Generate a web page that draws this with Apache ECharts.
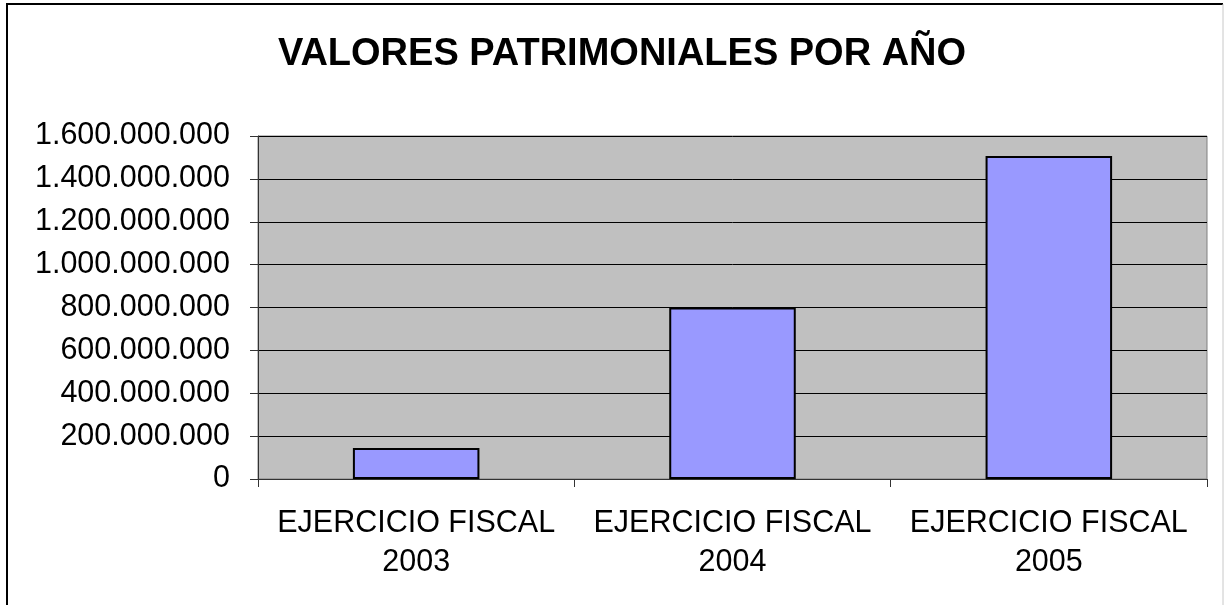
<!DOCTYPE html>
<html lang="es">

<head>
  <meta charset="UTF-8">
  <title>Valores patrimoniales por año</title>
  <script src="https://cdn.jsdelivr.net/npm/echarts@6/dist/echarts.min.js"></script>
  <style>
    * {
      padding: 0;
      margin: 0;
    }

    body {
      background: #fff;
    }

    #box {
      width: 1224px;
      height: 605px;
    }
  </style>
</head>

<body>
  <div id="box"></div>
  <script>
    // datos
    var categorias = ['EJERCICIO FISCAL\n2003', 'EJERCICIO FISCAL\n2004', 'EJERCICIO FISCAL\n2005']
    var valores = [145000000, 800000000, 1507000000]
    var titulo = 'VALORES PATRIMONIALES POR AÑO'

    // separador de miles con punto
    function miles(v) {
      return String(v).replace(/\B(?=(\d{3})+(?!\d))/g, '.')
    }

    var mCharts = echarts.init(document.getElementById('box'))
    var option = {
      animation: false,
      textStyle: { fontFamily: 'Liberation Sans, Arial, sans-serif' },
      title: {
        text: titulo,
        left: 617,
        top: 31,
        textAlign: 'center',
        textStyle: { fontSize: 38, fontWeight: 'bold', color: '#000', fontFamily: 'Liberation Sans' }
      },
      graphic: [
        // marco exterior
        { type: 'polyline', shape: { points: [[7, 610], [7, 4], [1223, 4]] }, style: { stroke: '#000', lineWidth: 2, fill: null } },
        { type: 'line', shape: { x1: 1223, y1: 4, x2: 1223, y2: 610 }, style: { stroke: '#c8c8c8', lineWidth: 1 } }
      ],
      grid: {
        left: 258,
        right: 17,
        top: 136,
        bottom: 126,
        show: true,
        backgroundColor: '#C0C0C0',
        borderColor: '#808080',
        borderWidth: 1
      },
      xAxis: {
        type: 'category',
        data: categorias,
        axisLine: { lineStyle: { color: '#333', width: 1 } },
        axisTick: { show: true, length: 8, lineStyle: { color: '#333' } },
        axisLabel: { color: '#000', fontSize: 30.5, lineHeight: 39, margin: 25, interval: 0 }
      },
      yAxis: {
        type: 'value',
        min: 0,
        max: 1600000000,
        interval: 200000000,
        axisLine: { show: true, lineStyle: { color: '#333', width: 1 } },
        axisTick: { show: true, length: 8, lineStyle: { color: '#333' } },
        splitLine: { lineStyle: { color: '#000', width: 1 } },
        axisLabel: { color: '#000', fontSize: 30.5, margin: 28, formatter: miles }
      },
      series: [{
        type: 'bar',
        data: valores,
        barWidth: '40%',
        itemStyle: { color: '#9999FF', borderColor: '#000', borderWidth: 2 }
      }]
    }
    mCharts.setOption(option)
  </script>
</body>

</html>
